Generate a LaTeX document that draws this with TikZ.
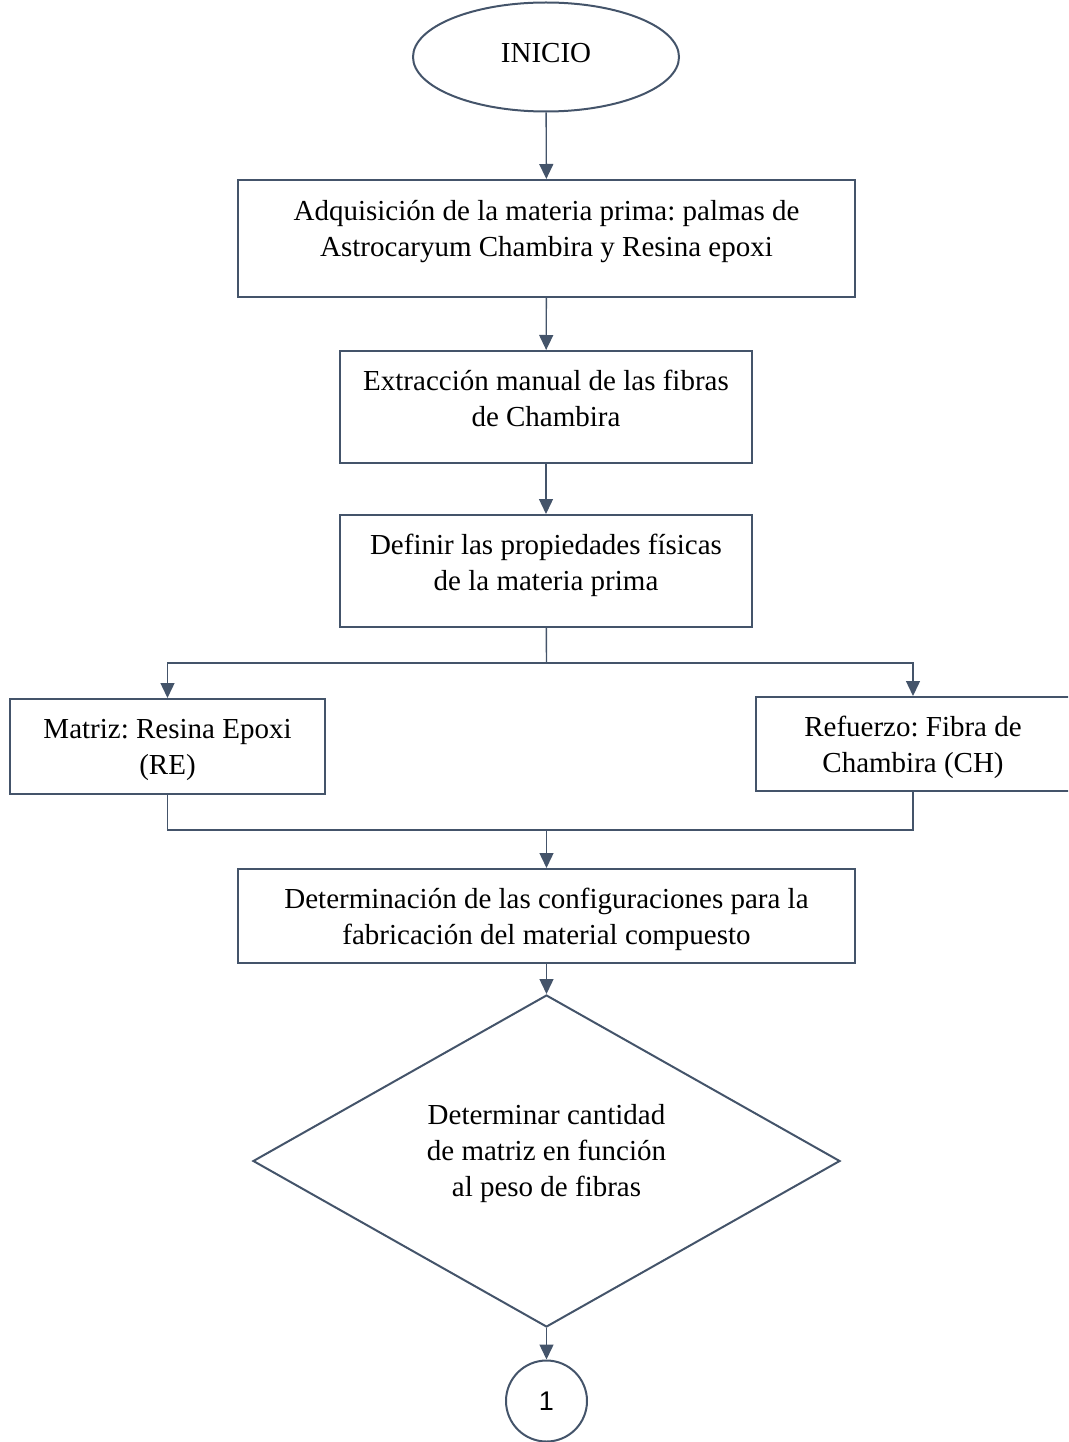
\documentclass[tikz,border=0pt]{standalone}
\usepackage{fontspec}
\setmainfont{Liberation Serif}
\newfontfamily\numfont{Liberation Sans}
\usetikzlibrary{shapes.geometric,arrows.meta}
\definecolor{ln}{HTML}{44546A}
\frenchspacing
\tikzset{
  box/.style={draw=ln,line width=2pt,rectangle,align=center,inner sep=0pt,font=\frenchspacing\fontsize{29}{36}\selectfont},
  arr/.style={draw=ln,line width=1.4pt,-{Triangle[width=14pt,length=15pt]}},
  con/.style={draw=ln,line width=1.4pt},
}
\begin{document}
\begin{tikzpicture}[x=1pt,y=-1pt]
\useasboundingbox (0,0) rectangle (1068,1442);
\clip (0,0) rectangle (1068,1442);
\node[box,ellipse,minimum width=266pt,minimum height=109pt,text depth=8pt] (ini) at (546,57) {INICIO};
\node[box,minimum width=617pt,minimum height=117pt,text depth=21pt] (b1) at (546.5,238.5) {Adquisición de la materia prima: palmas de\\Astrocaryum Chambira y Resina epoxi};
\node[box,minimum width=412pt,minimum height=112pt,text depth=18pt] (b2) at (546,407) {Extracción manual de las fibras\\de Chambira};
\node[box,minimum width=412pt,minimum height=112pt,text depth=18pt] (b3) at (546,571) {Definir las propiedades físicas\\de la materia prima};
\node[box,minimum width=315pt,minimum height=95pt,text depth=0pt] (lf) at (167.5,746.5) {Matriz: Resina Epoxi\\(RE)};
\node[box,minimum width=314pt,minimum height=94pt,text depth=0pt] (rt) at (913,744) {Refuerzo: Fibra de\\Chambira (CH)};
\node[box,minimum width=617pt,minimum height=94pt,text depth=0pt] (b4) at (546.5,916) {Determinación de las configuraciones para la\\fabricación del material compuesto};
\node[box,diamond,minimum width=587pt,minimum height=332pt,
  label={[align=center,inner sep=0pt,font=\frenchspacing\fontsize{29}{36}\selectfont,yshift=7pt]center:Determinar cantidad\\de matriz en función\\al peso de fibras}] (dm) at (546.5,1161) {};
\node[box,circle,minimum size=81pt,font=\numfont\fontsize{27}{32}\selectfont] (c1) at (546.5,1401) {1};
\coordinate (sp) at (546.5,663);
\coordinate (jn) at (546.5,830);
\draw[arr] (ini) -- (b1);
\draw[arr] (b1) -- (b2);
\draw[arr] (b2) -- (b3);
\draw[con] (b3) -- (sp);
\draw[arr] (sp) -| (lf.north);
\draw[arr] (sp) -| (rt.north);
\draw[con] (lf.south) |- (jn);
\draw[con] (rt.south) |- (jn);
\draw[arr] (jn) -- (b4);
\draw[arr] (b4) -- (dm);
\draw[arr] (dm) -- (c1);
\end{tikzpicture}
\end{document}
